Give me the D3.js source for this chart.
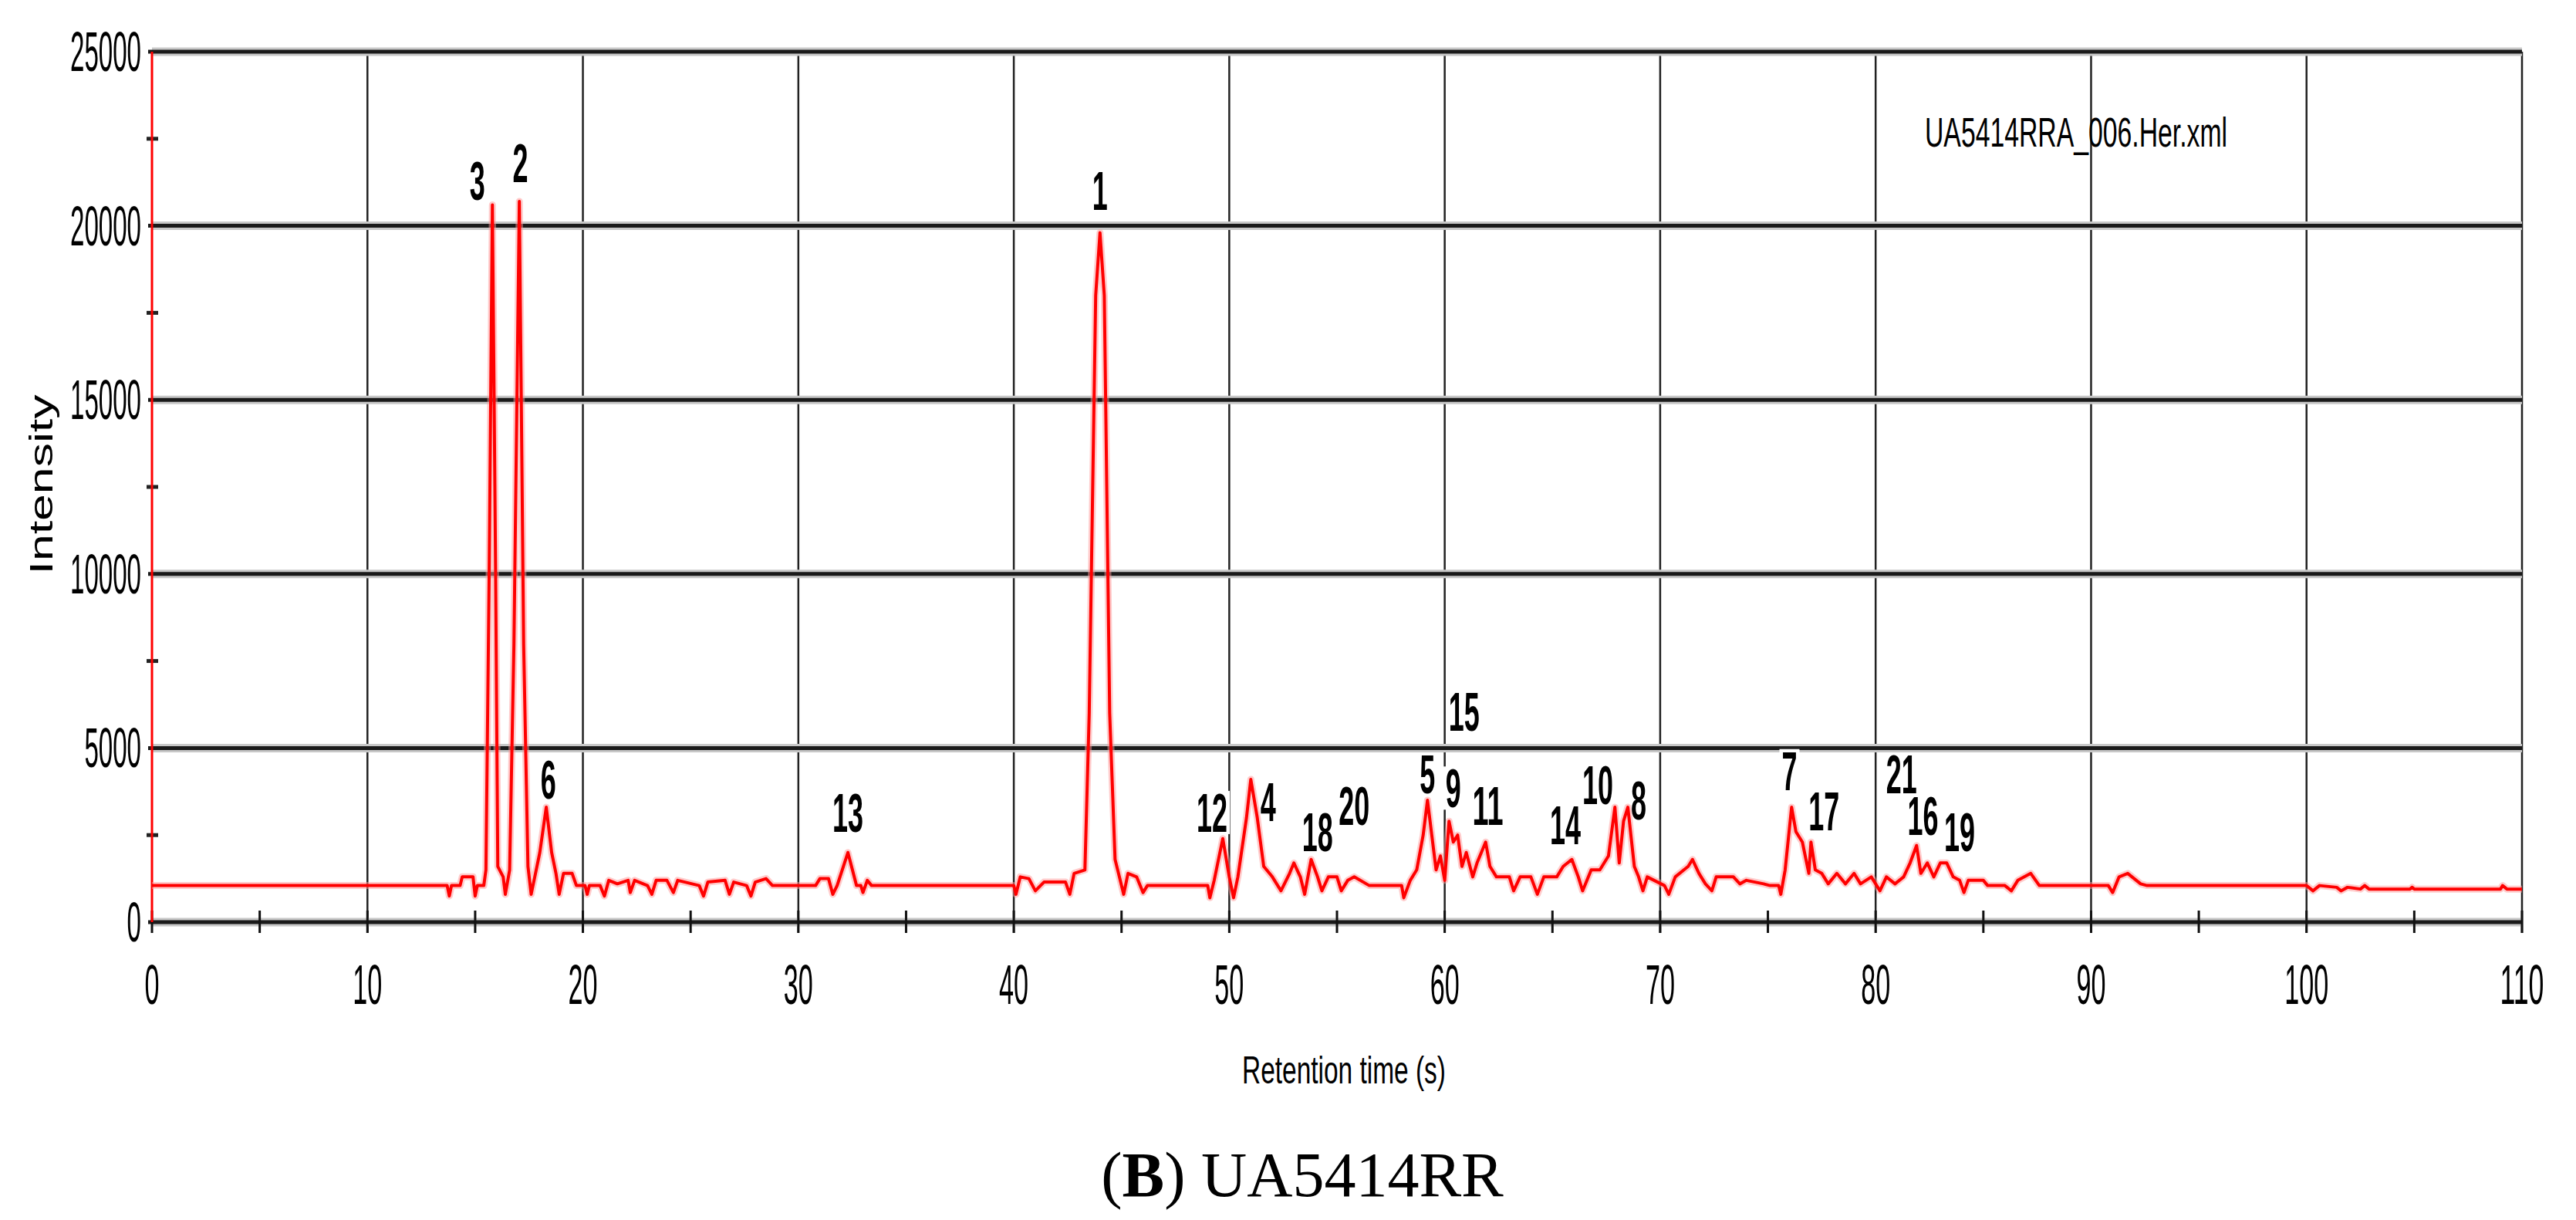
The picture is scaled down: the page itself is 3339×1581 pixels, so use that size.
<!DOCTYPE html>
<html>
<head>
<meta charset="utf-8">
<script src="https://cdn.jsdelivr.net/npm/d3@7"></script>
<style>
  body { margin: 0; background: #fff; }
  svg { display: block; }
</style>
</head>
<body>
<div class="chart"></div>
<script>
// chromatogram trace (retention time in s, intensity)
const retentionTime = [0,13.7,13.8,13.9,14.3,14.4,14.9,15.0,15.1,15.4,15.5,15.65,15.8,15.95,16.05,16.3,16.4,16.6,16.8,17.05,17.25,17.45,17.6,17.8,18.0,18.3,18.55,18.75,18.9,19.1,19.5,19.7,
  20.1,20.2,20.3,20.8,21.0,21.2,21.6,22.1,22.2,22.4,23.0,23.2,23.4,23.9,24.2,24.4,25.4,25.6,25.8,26.6,26.8,27.0,27.6,27.8,28.0,28.5,28.8,
  30.8,31.0,31.4,31.6,31.8,32.3,32.7,32.9,33.0,33.2,33.4,40.0,40.1,40.3,40.7,41.0,41.4,42.4,42.6,42.8,43.3,43.5,43.8,44.0,44.2,44.45,44.7,44.9,45.1,45.3,45.7,46.0,46.2,
  49.0,49.1,49.3,49.7,50.0,50.2,50.4,50.8,51.0,51.3,51.6,52.0,52.4,52.8,53.0,53.3,53.5,53.8,54.1,54.3,54.6,55.0,55.2,55.5,55.8,56.5,
  58.0,58.1,58.4,58.7,59.0,59.2,59.4,59.6,59.8,60.0,60.2,60.4,60.6,60.8,61.0,61.3,61.5,61.9,62.1,62.4,63.0,63.2,63.5,64.0,64.3,64.6,
  65.2,65.5,65.9,66.2,66.4,66.8,67.2,67.6,67.9,68.1,68.3,68.5,68.8,69.0,69.2,69.4,70.2,70.4,70.7,71.3,71.5,71.8,72.1,72.4,72.6,73.4,73.7,74.0,74.8,75.1,
  75.5,75.6,75.8,76.1,76.3,76.6,76.9,77.0,77.2,77.5,77.8,78.2,78.6,79.0,79.3,79.8,80.2,80.5,80.9,81.3,81.6,81.9,82.1,82.4,82.7,83.0,83.3,83.6,83.9,84.1,84.3,
  85.0,85.2,86.0,86.3,86.6,87.2,87.6,89.4,90.8,91.0,91.3,91.7,92.3,92.6,100.0,100.3,100.6,101.4,101.6,101.9,102.5,102.7,102.9,104.8,104.9,105.0,109.0,109.1,109.3,110];
const intensity = [1050,1050,750,1050,1050,1300,1300,750,1050,1050,1500,10000,20600,10000,1600,1300,800,1500,8000,20700,8000,1600,800,1400,2000,3300,2000,1400,800,1400,1400,1050,
  1050,800,1050,1050,750,1200,1100,1200,850,1200,1050,800,1200,1200,850,1200,1050,750,1150,1200,800,1150,1050,750,1150,1250,1050,
  1050,1250,1250,800,1050,2000,1050,1050,850,1200,1050,1050,800,1300,1250,900,1150,1150,800,1400,1500,6000,18000,19800,18000,6000,1800,1300,800,1400,1300,850,1050,
  1050,700,1200,2400,1300,700,1300,3000,4100,3000,1600,1300,900,1400,1700,1300,800,1800,1300,900,1300,1300,900,1200,1300,1050,
  1050,700,1200,1500,2500,3500,2500,1500,1900,1200,2900,2300,2500,1600,2000,1300,1700,2300,1600,1300,1300,900,1300,1300,800,1300,
  1300,1600,1800,1300,900,1500,1500,1900,3300,1700,2900,3300,1600,1300,900,1300,1050,800,1300,1600,1800,1400,1100,900,1300,1300,1100,1200,1100,1050,
  1050,800,1500,3300,2600,2300,1400,2300,1500,1400,1100,1400,1100,1400,1100,1300,900,1300,1100,1300,1700,2200,1400,1700,1300,1700,1700,1300,1200,850,1200,
  1200,1050,1050,900,1200,1400,1050,1050,1050,850,1300,1400,1100,1050,1050,900,1050,1000,900,1000,950,1050,950,950,1000,950,950,1050,950,950];

// peak annotations
const peakLabels = ["3","2","1","6","13","12","4","18","20","15","5","9","11","14","10","8","7","17","21","16","19"];
const peakLabelTime = [15.1,17.1,44.0,18.4,32.3,49.2,51.8,54.1,55.8,60.9,59.2,60.4,62.0,65.6,67.1,69.0,76.0,77.6,81.2,82.2,83.9];
const peakLabelIntensity = [21300,21800,21000,4100,3150,3150,3450,2600,3350,6050,4250,3850,3350,2800,3950,3500,4350,3200,4250,3050,2600];

const xTicks = d3.range(0, 111, 10);
const xMinorTicks = d3.range(5, 110, 10);
const yTicks = d3.range(0, 25001, 5000);
const yMinorTicks = d3.range(2500, 25000, 5000);

const width = 3339, height = 1581;
const x = d3.scaleLinear().domain([0, 110]).range([197, 3269]);
const y = d3.scaleLinear().domain([0, 25000]).range([1195, 67]);

const svg = d3.select(".chart").append("svg")
  .attr("width", width).attr("height", height);

// vertical grid
svg.append("g").selectAll("line")
  .data(xTicks.filter(d => d > 0))
  .enter().append("line")
  .attr("x1", d => x(d)).attr("x2", d => x(d))
  .attr("y1", y(25000)).attr("y2", y(0) + 14)
  .attr("stroke", "#222").attr("stroke-width", 2.5);

// horizontal grid (thick with grey halo)
const hg = svg.append("g");
hg.selectAll("line.halo").data(yTicks).enter().append("line")
  .attr("class", "halo")
  .attr("x1", x(0)).attr("x2", x(110))
  .attr("y1", d => y(d)).attr("y2", d => y(d))
  .attr("stroke", "#c8c8c8").attr("stroke-width", 11);
hg.selectAll("line.main").data(yTicks).enter().append("line")
  .attr("class", "main")
  .attr("x1", x(0) - 5).attr("x2", x(110))
  .attr("y1", d => y(d)).attr("y2", d => y(d))
  .attr("stroke", "#1a1a1a").attr("stroke-width", 5);

// x ticks
svg.append("g").selectAll("line")
  .data(xTicks.concat(xMinorTicks))
  .enter().append("line")
  .attr("x1", d => x(d)).attr("x2", d => x(d))
  .attr("y1", y(0) - 15).attr("y2", y(0) + 14)
  .attr("stroke", "#111").attr("stroke-width", 3);

// y minor ticks
svg.append("g").selectAll("line")
  .data(yMinorTicks)
  .enter().append("line")
  .attr("x1", x(0) - 7).attr("x2", x(0) + 8)
  .attr("y1", d => y(d)).attr("y2", d => y(d))
  .attr("stroke", "#222").attr("stroke-width", 5);

// red y axis line
svg.append("line")
  .attr("x1", x(0)).attr("x2", x(0))
  .attr("y1", y(25000)).attr("y2", y(0))
  .attr("stroke", "#ff0000").attr("stroke-width", 3);

// tick labels
svg.append("g").selectAll("text")
  .data(yTicks).enter().append("text")
  .attr("x", 183).attr("y", d => y(d) + 25)
  .attr("text-anchor", "end")
  .attr("font-family", "Liberation Sans, Arial, sans-serif")
  .attr("font-size", 72)
  .attr("textLength", d => String(d).length * 18.4)
  .attr("lengthAdjust", "spacingAndGlyphs")
  .text(d => d);

svg.append("g").selectAll("text")
  .data(xTicks).enter().append("text")
  .attr("x", d => x(d)).attr("y", 1301)
  .attr("text-anchor", "middle")
  .attr("font-family", "Liberation Sans, Arial, sans-serif")
  .attr("font-size", 72)
  .attr("textLength", d => String(d).length * 19)
  .attr("lengthAdjust", "spacingAndGlyphs")
  .text(d => d);

// axis titles
svg.append("text")
  .attr("x", 1742).attr("y", 1404)
  .attr("text-anchor", "middle")
  .attr("font-family", "Liberation Sans, Arial, sans-serif")
  .attr("font-size", 50)
  .attr("textLength", 264).attr("lengthAdjust", "spacingAndGlyphs")
  .text("Retention time (s)");

svg.append("text")
  .attr("transform", "translate(68,628) rotate(-90)")
  .attr("text-anchor", "middle")
  .attr("font-family", "Liberation Sans, Arial, sans-serif")
  .attr("font-size", 42)
  .attr("textLength", 233).attr("lengthAdjust", "spacingAndGlyphs")
  .text("Intensity");

// file name
svg.append("text")
  .attr("x", 2495).attr("y", 190)
  .attr("font-family", "Liberation Sans, Arial, sans-serif")
  .attr("font-size", 54)
  .attr("textLength", 392).attr("lengthAdjust", "spacingAndGlyphs")
  .text("UA5414RRA_006.Her.xml");

// label backgrounds
const labelW = d => d.length * 20;
svg.append("g").selectAll("rect")
  .data(peakLabels).enter().append("rect")
  .attr("x", (d, i) => x(peakLabelTime[i]) - labelW(d) / 2 - 3)
  .attr("y", (d, i) => y(peakLabelIntensity[i]) - 28)
  .attr("width", d => labelW(d) + 6)
  .attr("height", 56)
  .attr("fill", "#fff");

// trace
const line = d3.line()
  .x((d, i) => x(retentionTime[i]))
  .y(d => y(d));

svg.append("path")
  .datum(intensity)
  .attr("d", line)
  .attr("fill", "none")
  .attr("stroke", "#ff9999")
  .attr("stroke-width", 9)
  .attr("stroke-linejoin", "round")
  .attr("opacity", 0.5);

svg.append("path")
  .datum(intensity)
  .attr("d", line)
  .attr("fill", "none")
  .attr("stroke", "#ff0000")
  .attr("stroke-width", 4)
  .attr("stroke-linejoin", "round");

// peak labels
svg.append("g").selectAll("text")
  .data(peakLabels).enter().append("text")
  .attr("x", (d, i) => x(peakLabelTime[i]))
  .attr("y", (d, i) => y(peakLabelIntensity[i]) + 25)
  .attr("text-anchor", "middle")
  .attr("font-family", "Liberation Sans Narrow, Liberation Sans, Arial, sans-serif")
  .attr("font-weight", "bold")
  .attr("font-size", 70)
  .attr("textLength", labelW)
  .attr("lengthAdjust", "spacingAndGlyphs")
  .text(d => d);

// caption
const cap = svg.append("text")
  .attr("x", 1688).attr("y", 1550)
  .attr("text-anchor", "middle")
  .attr("font-family", "Liberation Serif, Times New Roman, serif")
  .attr("font-size", 82);
cap.append("tspan").text("(");
cap.append("tspan").attr("font-weight", "bold").text("B");
cap.append("tspan").text(") UA5414RR");
</script>
</body>
</html>
